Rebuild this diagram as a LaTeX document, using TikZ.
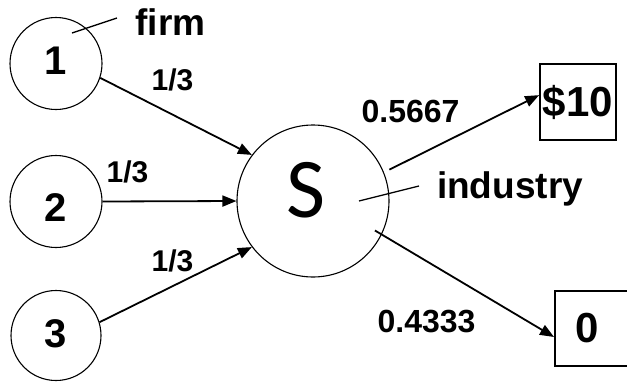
\documentclass[tikz,border=0pt]{standalone}
\usepackage{fontspec}
\setmainfont{Liberation Sans}
\newfontfamily\carlfont{Carlito}
\usetikzlibrary{arrows.meta}
\newcommand\shiftnum[2]{\raisebox{#1}[\height][\depth]{#2}}
\begin{document}
\begin{tikzpicture}[x=1pt,y=-1pt,
  firmcirc/.style={circle,draw,line width=1.1pt,minimum size=92pt,inner sep=0pt,
    font=\fontsize{40}{40}\selectfont\bfseries},
  bigcirc/.style={circle,draw,line width=1.1pt,minimum size=152pt,inner sep=0pt,
    font=\carlfont\fontsize{85}{85}\selectfont},
  outbox/.style={draw,line width=1.8pt,inner sep=0pt,
    font=\fontsize{42}{42}\selectfont\bfseries},
  conn/.style={line width=1.8pt,-{Triangle[length=14pt,width=11pt]}},
  leader/.style={line width=1.3pt},
  lab/.style={inner sep=0pt,anchor=base,font=\fontsize{#1}{#1}\selectfont\bfseries},
]
\clip (0,0) rectangle (627,381);
% firms
\node[firmcirc] (c1) at (56,63.5) {\shiftnum{2.5pt}{1}};
\node[firmcirc] (c2) at (56,201.5) {\shiftnum{-6pt}{2}};
\node[firmcirc,minimum size=90pt] (c3) at (56,335.5) {\shiftnum{1.5pt}{3}};
% industry
\node[bigcirc] (S) at (313,201) {\raisebox{11pt}[\height][\depth]{\kern-13pt S}};
% outcomes
\node[outbox,minimum width=76pt,minimum height=76pt] (ten) at (578,102) {\$10};
\node[outbox,anchor=west,minimum height=75pt,text width=50pt,inner xsep=21pt,align=left] (zero) at (554,328.5) {0};
% connectors
\draw[conn] (c1.-18) -- (S.143);
\draw[conn] (c2.east) -- (S.west);
\draw[conn] (c3.17) -- (S.217);
\draw[conn,shorten <=6pt] (S.22) -- (ten.170);
\draw[conn,shorten <=-8pt] (S.-26.6) -- ([yshift=-8.5pt]zero.west);
% leaders
\coordinate (firmA) at (72,33);
\coordinate (firmB) at (117,18);
\draw[leader] (firmA) -- (firmB);
\coordinate (indA) at (359,201);
\coordinate (indB) at (419,186);
\draw[leader] (indA) -- (indB);
% labels
\node[lab=37] (firm) at (170.5,35) {firm};
\node[lab=37] (industry) at (510,198) {industry};
\node[lab=30] (w1) at (172.5,90) {1/3};
\node[lab=30] (w2) at (127.5,182) {1/3};
\node[lab=30] (w3) at (172.5,271) {1/3};
\node[lab=32] (p1) at (410.5,122) {0.5667};
\node[lab=32] (p2) at (426.5,332) {0.4333};
\end{tikzpicture}
\end{document}
